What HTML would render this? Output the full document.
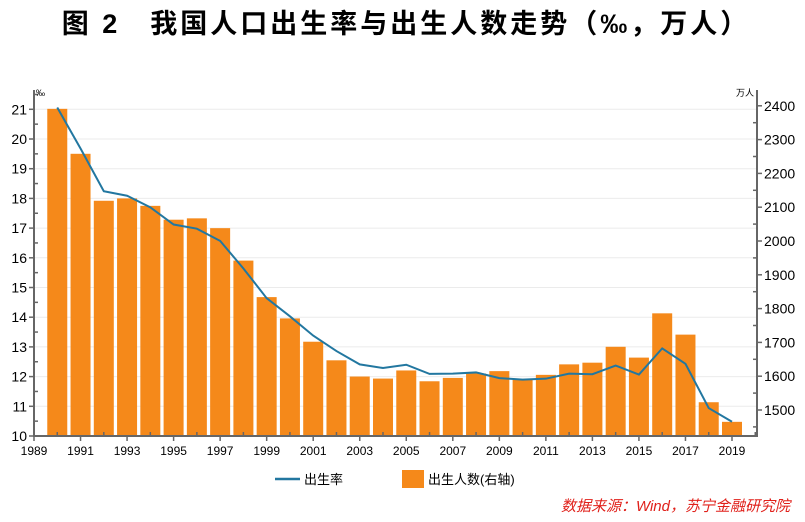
<!DOCTYPE html>
<html><head><meta charset="utf-8"><style>
body{margin:0;background:#fff;width:805px;height:517px;overflow:hidden;font-family:"Liberation Sans","Noto Sans CJK SC",sans-serif}
</style></head><body>
<svg width="805" height="517" xmlns="http://www.w3.org/2000/svg">
<text x="406" y="33" text-anchor="middle" font-size="27" letter-spacing="3" font-weight="bold" font-family="Liberation Sans,Noto Sans CJK SC,sans-serif">图 2　我国人口出生率与出生人数走势（‰，万人）</text>
<g id="grid"></g><g id="bars"></g><g id="line"></g><g id="axes"></g>
<g>
<line x1="275" y1="479" x2="300" y2="479" stroke="#2277a0" stroke-width="2.5"/>
<text x="304" y="484" font-size="13">出生率</text>
<rect x="402" y="470" width="22" height="18" fill="#f5891a"/>
<text x="428" y="484" font-size="13">出生人数(右轴)</text>
</g>
<text x="790" y="511" text-anchor="end" font-size="15" font-style="italic" fill="#e0201a">数据来源：Wind，苏宁金融研究院</text>
</svg>
<script>
const years=[1990,1991,1992,1993,1994,1995,1996,1997,1998,1999,2000,2001,2002,2003,2004,2005,2006,2007,2008,2009,2010,2011,2012,2013,2014,2015,2016,2017,2018,2019];
const birthRate=[21.06,19.68,18.24,18.09,17.70,17.12,16.98,16.57,15.64,14.64,14.03,13.38,12.86,12.41,12.29,12.40,12.09,12.10,12.14,11.95,11.90,11.93,12.10,12.08,12.37,12.07,12.95,12.43,10.94,10.48];
const births=[2391,2258,2119,2126,2104,2063,2067,2038,1942,1834,1771,1702,1647,1599,1593,1617,1585,1595,1608,1615,1592,1604,1635,1640,1687,1655,1786,1723,1523,1465];
const leftTicks=[10,11,12,13,14,15,16,17,18,19,20,21];
const rightTicks=[1500,1600,1700,1800,1900,2000,2100,2200,2300,2400];
const xTicks=[1989,1991,1993,1995,1997,1999,2001,2003,2005,2007,2009,2011,2013,2015,2017,2019];
const NS='http://www.w3.org/2000/svg';
const X0=34,X1=757,Yb=436;
const xs=y=>34+(y-1989)*(698/30);
const yl=v=>436-(v-10)*29.7;
const yr=v=>410-(v-1500)*0.338;
function mk(t,a,p){const e=document.createElementNS(NS,t);for(const k in a)e.setAttribute(k,a[k]);p.appendChild(e);return e;}
const G=document.getElementById('grid'),B=document.getElementById('bars'),L=document.getElementById('line'),A=document.getElementById('axes');
leftTicks.forEach(v=>{if(v>10){const l=mk('line',{x1:X0,x2:X1,y1:yl(v),y2:yl(v),stroke:'#ebebeb','stroke-width':1},G);}});
years.forEach((y,i)=>{const t=yr(births[i]);const r=mk('rect',{x:xs(y)-10,y:t,width:20,height:Yb-t,fill:'#f5891a'},B);});
const pl=mk('polyline',{points:years.map((y,i)=>xs(y)+','+yl(birthRate[i])).join(' '),fill:'none',stroke:'#2277a0','stroke-width':2},L);

const ax={stroke:'#666','stroke-width':2};
let e=mk('line',Object.assign({x1:X0,x2:X0,y1:90,y2:Yb+1},ax),A);
e=mk('line',Object.assign({x1:X1,x2:X1,y1:90,y2:Yb+1},ax),A);
e=mk('line',Object.assign({x1:X0-1,x2:X1+1,y1:Yb,y2:Yb},ax),A);
for(let v=10;v<=21.6;v+=0.5){mk('line',{x1:X0,x2:X0+(v%1?4:-5),y1:yl(v),y2:yl(v),stroke:'#666','stroke-width':1.5},A);}
leftTicks.forEach(v=>{const t=mk('text',{x:X0-7,y:yl(v)+5,'text-anchor':'end','font-size':14},A);t.textContent=v;});
for(let v=1450;v<=2420;v+=50){mk('line',{x1:X1,x2:X1+(v%100?-4:5),y1:yr(v),y2:yr(v),stroke:'#666','stroke-width':1.5},A);}
rightTicks.forEach(v=>{const t=mk('text',{x:X1+7,y:yr(v)+5,'font-size':14},A);t.textContent=v;});
for(let y=1989;y<=2020;y++){mk('line',{x1:xs(y),x2:xs(y),y1:Yb,y2:Yb+(y%2?5:-4),stroke:'#666','stroke-width':1.5},A);}
xTicks.forEach(v=>{const t=mk('text',{x:xs(v),y:Yb+19,'text-anchor':'middle','font-size':12},A);t.textContent=v;});
e=mk('text',{x:36,y:96,'font-size':9},A);e.textContent='‰';
e=mk('text',{x:754,y:96,'font-size':9,'text-anchor':'end'},A);e.textContent='万人';
</script>
</body></html>
